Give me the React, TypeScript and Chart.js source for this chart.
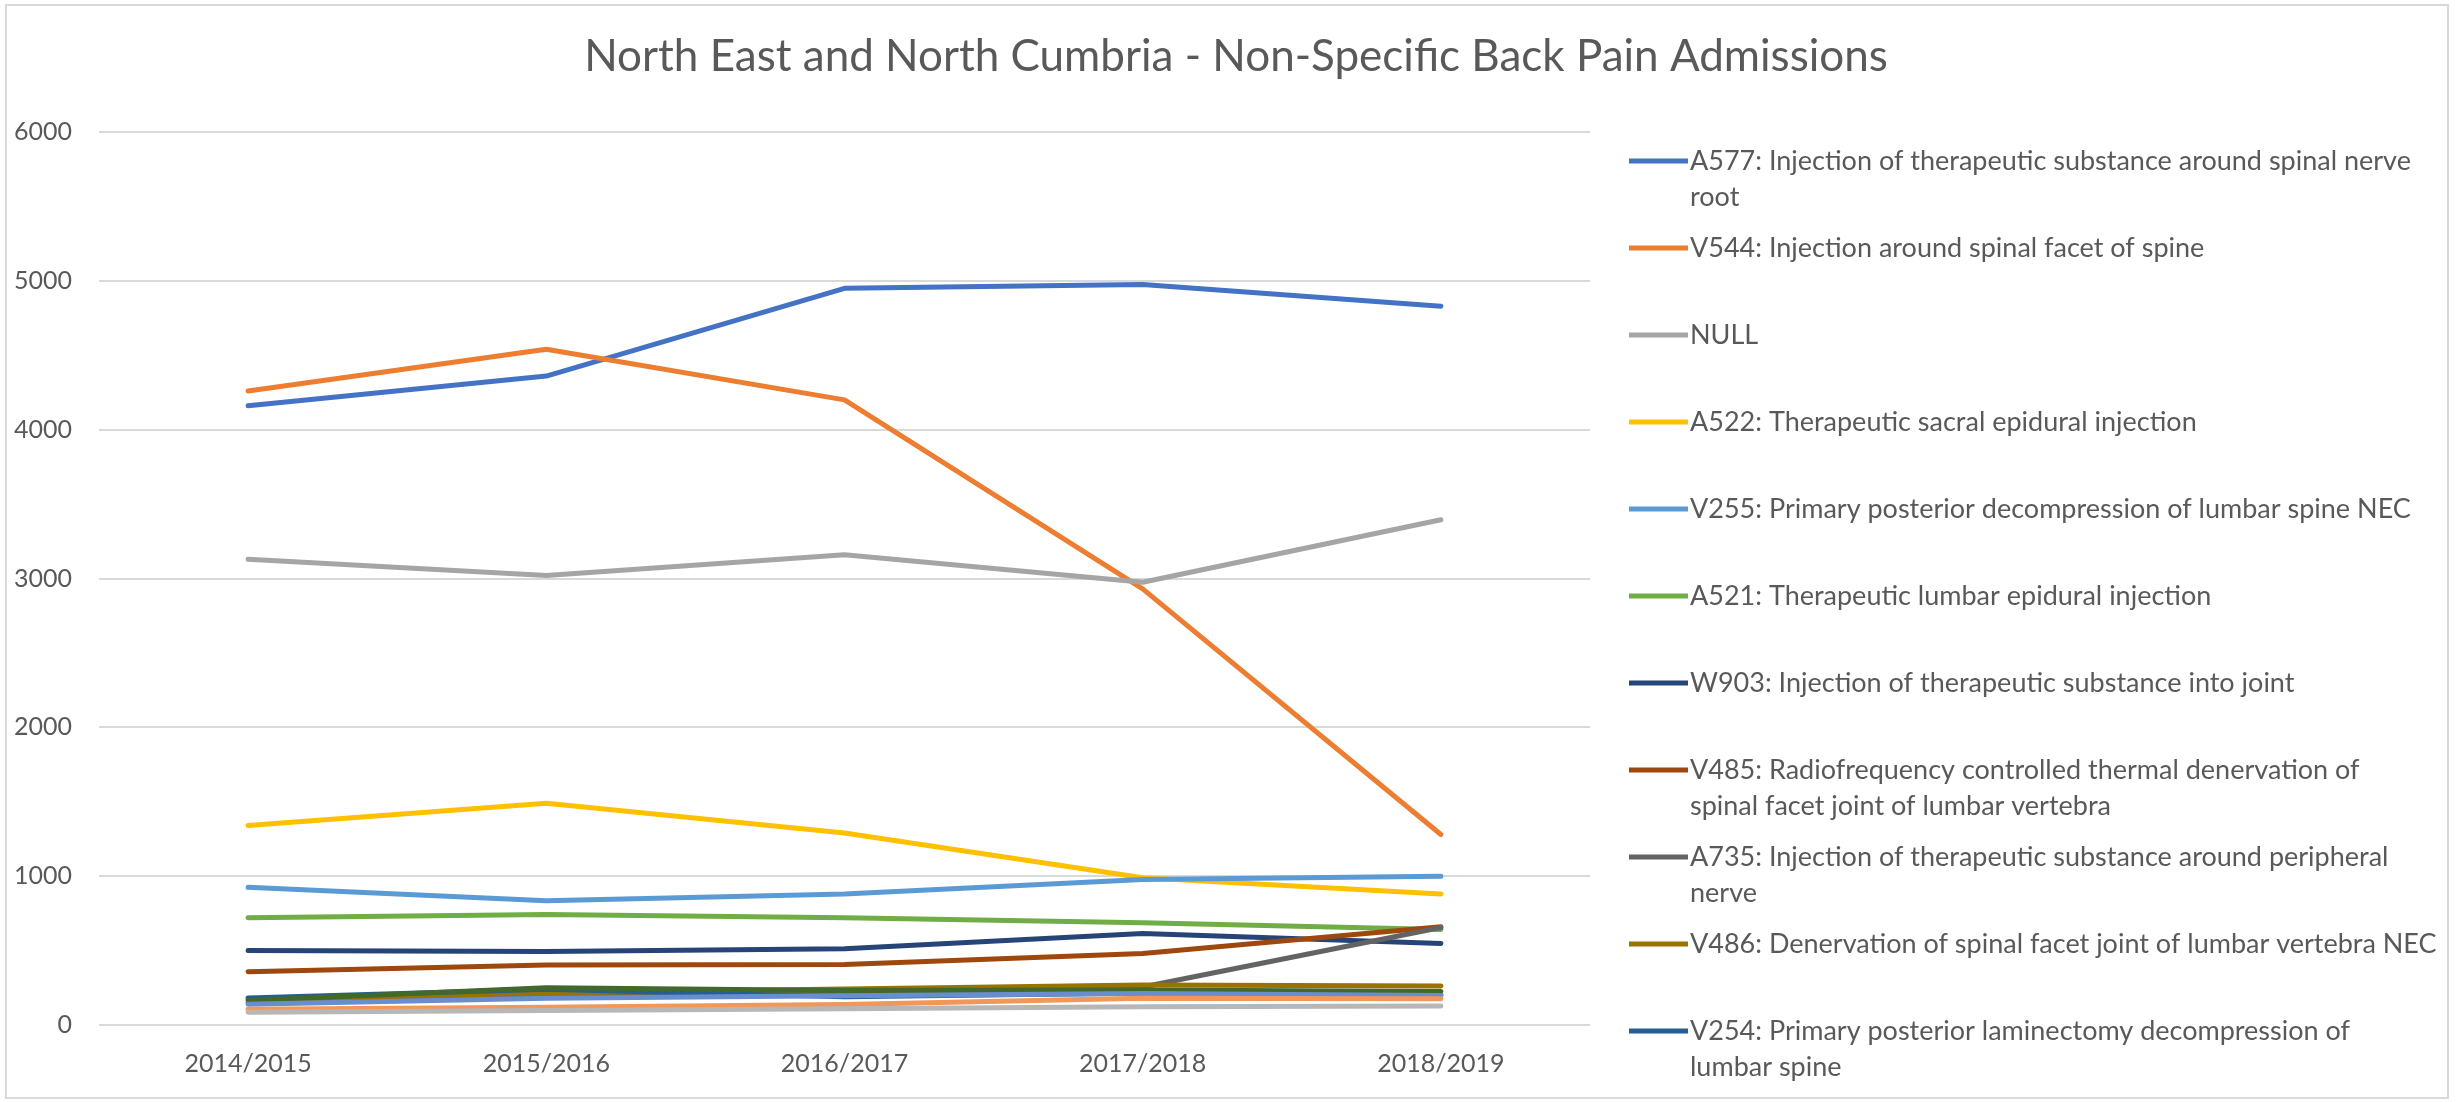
import React, { useEffect, useRef } from "react";
import { Chart, registerables } from "chart.js";

Chart.register(...registerables);

// ---- data ----
const chartTitle = "North East and North Cumbria - Non-Specific Back Pain Admissions";
const years = ["2014/2015", "2015/2016", "2016/2017", "2017/2018", "2018/2019"];
const yTicks = [0, 1000, 2000, 3000, 4000, 5000, 6000];

// legend entries, already broken into the lines they are printed on
const legendLines = [
  ["A577: Injection of therapeutic substance around spinal nerve", "root"],
  ["V544: Injection around spinal facet of spine"],
  ["NULL"],
  ["A522: Therapeutic sacral epidural injection"],
  ["V255: Primary posterior decompression of lumbar spine NEC"],
  ["A521: Therapeutic lumbar epidural injection"],
  ["W903: Injection of therapeutic substance into joint"],
  ["V485: Radiofrequency controlled thermal denervation of", "spinal facet joint of lumbar vertebra"],
  ["A735: Injection of therapeutic substance around peripheral", "nerve"],
  ["V486: Denervation of spinal facet joint of lumbar vertebra NEC"],
  ["V254: Primary posterior laminectomy decompression of", "lumbar spine"],
  ["Other procedure 1"],
  ["Other procedure 2"],
  ["Other procedure 3"],
  ["Other procedure 4"],
];

const a577 = [4160, 4360, 4950, 4975, 4830];
const v544 = [4260, 4540, 4200, 2930, 1280];
const nullCode = [3130, 3020, 3160, 2975, 3395];
const a522 = [1340, 1490, 1290, 990, 880];
const v255 = [925, 835, 880, 978, 1000];
const a521 = [720, 743, 720, 687, 642];
const w903 = [500, 494, 512, 615, 548];
const v485 = [358, 403, 407, 481, 660];
const a735 = [150, 190, 210, 255, 655];
const v486 = [170, 215, 242, 268, 262];
const v254 = [182, 240, 190, 215, 200];
const other1 = [165, 250, 232, 235, 225];
const other2 = [140, 180, 196, 212, 198];
const other3 = [105, 120, 138, 180, 176];
const other4 = [85, 98, 110, 122, 128];

const seriesValues = [a577, v544, nullCode, a522, v255, a521, w903, v485, a735, v486, v254, other1, other2, other3, other4];

const seriesColors = [
  "#4472C4", "#ED7D31", "#A5A5A5", "#FFC000", "#5B9BD5", "#70AD47", "#264478",
  "#9E480E", "#636363", "#997300", "#255E91", "#43682B", "#698ED0", "#F1975A", "#B7B7B7",
];

const legendCount = 11;

// ---- styling ----
const FONT = "Lato, 'Noto Sans', sans-serif";
const TEXT = "#595959";
const GRID = "#d9d9d9";

const frameAndLegend = {
  id: "frameAndLegend",
  afterDraw(chart: any) {
    const ctx: CanvasRenderingContext2D = chart.ctx;
    ctx.save();

    // outer frame
    ctx.strokeStyle = GRID;
    ctx.lineWidth = 2;
    ctx.strokeRect(6, 5, 2442, 1093);

    // title
    ctx.fillStyle = TEXT;
    ctx.font = `44px ${FONT}`;
    ctx.textAlign = "center";
    ctx.textBaseline = "alphabetic";
    ctx.fillText(chartTitle, 1236, 71);

    // legend
    ctx.font = `27px ${FONT}`;
    ctx.textAlign = "left";
    ctx.textBaseline = "middle";
    const datasets = chart.data.datasets;
    for (let i = 0; i < Math.min(legendCount, datasets.length); i++) {
      const ds = datasets[i];
      const y = 161 + i * 87;
      ctx.strokeStyle = ds.borderColor;
      ctx.lineWidth = 5;
      ctx.lineCap = "butt";
      ctx.beginPath();
      ctx.moveTo(1629, y);
      ctx.lineTo(1688, y);
      ctx.stroke();
      ctx.fillStyle = TEXT;
      legendLines[i].forEach((ln, j) => ctx.fillText(ln, 1690, y + j * 36.5));
    }
    ctx.restore();
  },
};

export default function App() {
  const canvasRef = useRef<HTMLCanvasElement | null>(null);

  useEffect(() => {
    document.body.style.margin = "0";
    const canvas = canvasRef.current;
    if (!canvas) return;

    const n = seriesValues.length;
    const chart = new Chart(canvas, {
      type: "line",
      data: {
        labels: years,
        datasets: seriesValues.map((vals, i) => ({
          label: legendLines[i].join(" "),
          data: vals,
          borderColor: seriesColors[i],
          backgroundColor: seriesColors[i],
          borderWidth: 5,
          pointRadius: 0,
          pointHoverRadius: 0,
          tension: 0,
          fill: false,
          borderJoinStyle: "round" as const,
          borderCapStyle: "round" as const,
          order: n - i,
        })),
      },
      options: {
        animation: false,
        responsive: true,
        maintainAspectRatio: false,
        devicePixelRatio: 1,
        events: [],
        layout: { padding: { left: 6, top: 132, right: 874, bottom: 0 } },
        plugins: {
          legend: { display: false },
          title: { display: false },
          tooltip: { enabled: false },
        },
        scales: {
          x: {
            type: "category",
            offset: true,
            grid: { display: false, drawTicks: false },
            border: { display: false },
            ticks: { color: TEXT, font: { family: FONT, size: 25 }, padding: 24, maxRotation: 0 },
            afterFit: (s: any) => {
              s.height = 77;
            },
          },
          y: {
            min: 0,
            max: 6000,
            afterBuildTicks: (s: any) => {
              s.ticks = yTicks.map((v) => ({ value: v }));
            },
            grid: { color: GRID, lineWidth: 2, drawTicks: false },
            border: { display: false },
            ticks: {
              color: TEXT,
              font: { family: FONT, size: 25 },
              padding: 27,
              callback: (v: any) => String(v),
            },
            afterFit: (s: any) => {
              s.width = 93;
            },
          },
        },
      },
      plugins: [frameAndLegend],
    });

    return () => chart.destroy();
  }, []);

  return (
    <div style={{ position: "absolute", left: 0, top: 0, width: 2464, height: 1102, background: "#fff" }}>
      <canvas ref={canvasRef} />
    </div>
  );
}
